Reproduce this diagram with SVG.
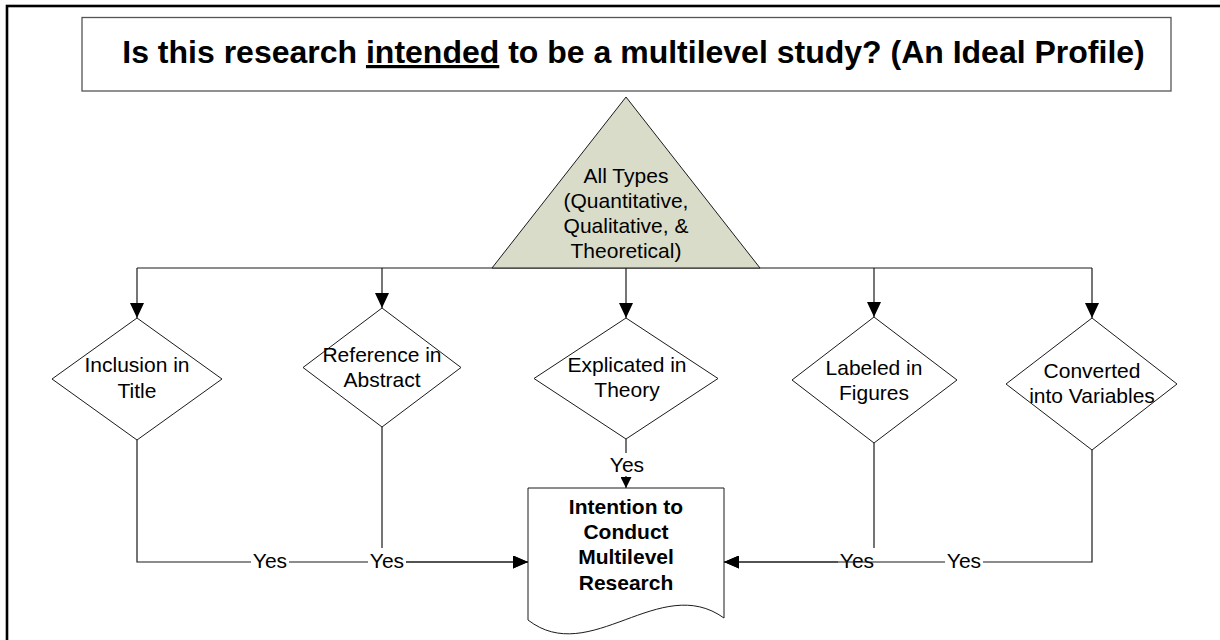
<svg xmlns="http://www.w3.org/2000/svg" width="1220" height="640" viewBox="0 0 1220 640">
<style>
text{font-family:"Liberation Sans",Arial,sans-serif;fill:#000}
.t{font-size:21px;text-anchor:middle}
.b{font-size:21px;font-weight:bold;text-anchor:middle}
.shape{fill:#fff;stroke:#1a1a1a;stroke-width:1}
.ln{fill:none;stroke:#1a1a1a;stroke-width:1.2}
.bg{fill:#fff}
</style>
<defs>
<marker id="ad" markerUnits="userSpaceOnUse" markerWidth="14" markerHeight="15" refX="7" refY="15" orient="0" viewBox="0 0 14 15">
<path d="M0,0 L14,0 L7,15 Z" fill="#000"/>
</marker>
<marker id="ads" markerUnits="userSpaceOnUse" markerWidth="11" markerHeight="11" refX="5.5" refY="11" orient="0" viewBox="0 0 11 11">
<path d="M0,0 L11,0 L5.5,11 Z" fill="#000"/>
</marker>
<marker id="ah" markerUnits="userSpaceOnUse" markerWidth="15" markerHeight="13" refX="15" refY="6.5" orient="auto" viewBox="0 0 15 13">
<path d="M0,0 L15,6.5 L0,13 Z" fill="#000"/>
</marker>
</defs>
<rect x="7" y="6" width="1230" height="650" fill="#fff" stroke="#000" stroke-width="2.6"/>
<g id="title">
<rect x="82" y="17.5" width="1089" height="73.5" fill="#fff" stroke="#555" stroke-width="1.3"/>
<text x="633.5" y="63" style="font-size:32px;font-weight:bold;text-anchor:middle">Is this research <tspan style="text-decoration:underline">intended</tspan> to be a multilevel study? (An Ideal Profile)</text>
</g>
<g id="connectors">
<path class="ln" d="M137,268 H1092"/>
<path class="ln" d="M137,268 V318" marker-end="url(#ad)"/>
<path class="ln" d="M382,268 V308" marker-end="url(#ad)"/>
<path class="ln" d="M626,268 V318" marker-end="url(#ad)"/>
<path class="ln" d="M874,268 V317" marker-end="url(#ad)"/>
<path class="ln" d="M1092,268 V318" marker-end="url(#ad)"/>
<path class="ln" d="M137,440 V562 H528" marker-end="url(#ah)"/>
<path class="ln" d="M382,427 V562 H528" marker-end="url(#ah)"/>
<path class="ln" d="M626,439 V488" marker-end="url(#ads)"/>
<path class="ln" d="M874,443 V562 H724" marker-end="url(#ah)"/>
<rect class="bg" x="838" y="548" width="38" height="24"/>
<text class="t" x="857" y="568">Yes</text>
<path class="ln" d="M1092,450 V562 H724" marker-end="url(#ah)"/>
<rect class="bg" x="251" y="550" width="38" height="22"/>
<text class="t" x="270" y="568">Yes</text>
<rect class="bg" x="368" y="548" width="38" height="24"/>
<text class="t" x="387" y="568">Yes</text>
<rect class="bg" x="945" y="550" width="38" height="22"/>
<text class="t" x="964" y="568">Yes</text>
<rect class="bg" x="608" y="453" width="38" height="23"/>
<text class="t" x="627" y="472">Yes</text>
</g>
<g id="all-types">
<path d="M626,97 L760,268 L492,268 Z" fill="#d9dcc8" stroke="#1a1a1a" stroke-width="1"/>
<text class="t" x="626" y="183">All Types</text>
<text class="t" x="626" y="208">(Quantitative,</text>
<text class="t" x="626" y="233">Qualitative, &amp;</text>
<text class="t" x="626" y="258">Theoretical)</text>
</g>
<g id="inclusion-title">
<path class="shape" d="M137,318 L222,379 L137,440 L52,379 Z"/>
<text class="t" x="137" y="372">Inclusion in</text>
<text class="t" x="137" y="398">Title</text>
</g>
<g id="reference-abstract">
<path class="shape" d="M382,308 L461,367.5 L382,427 L303,367.5 Z"/>
<text class="t" x="382" y="362">Reference in</text>
<text class="t" x="382" y="387">Abstract</text>
</g>
<g id="explicated-theory">
<path class="shape" d="M626,318 L718,378.5 L626,439 L534,378.5 Z"/>
<text class="t" x="627" y="372">Explicated in</text>
<text class="t" x="627" y="397">Theory</text>
</g>
<g id="labeled-figures">
<path class="shape" d="M874,317 L957,380 L874,443 L792,380 Z"/>
<text class="t" x="874" y="375">Labeled in</text>
<text class="t" x="874" y="400">Figures</text>
</g>
<g id="converted-variables">
<path class="shape" d="M1092,318 L1177,384 L1092,450 L1006,384 Z"/>
<text class="t" x="1092" y="378">Converted</text>
<text class="t" x="1092" y="403">into Variables</text>
</g>
<g id="intention">
<path class="shape" d="M528,488 H724 V618 C660,572 590,668 528,620 Z"/>
<text class="b" x="626" y="514">Intention to</text>
<text class="b" x="626" y="539">Conduct</text>
<text class="b" x="626" y="564">Multilevel</text>
<text class="b" x="626" y="590">Research</text>
</g>
</svg>
